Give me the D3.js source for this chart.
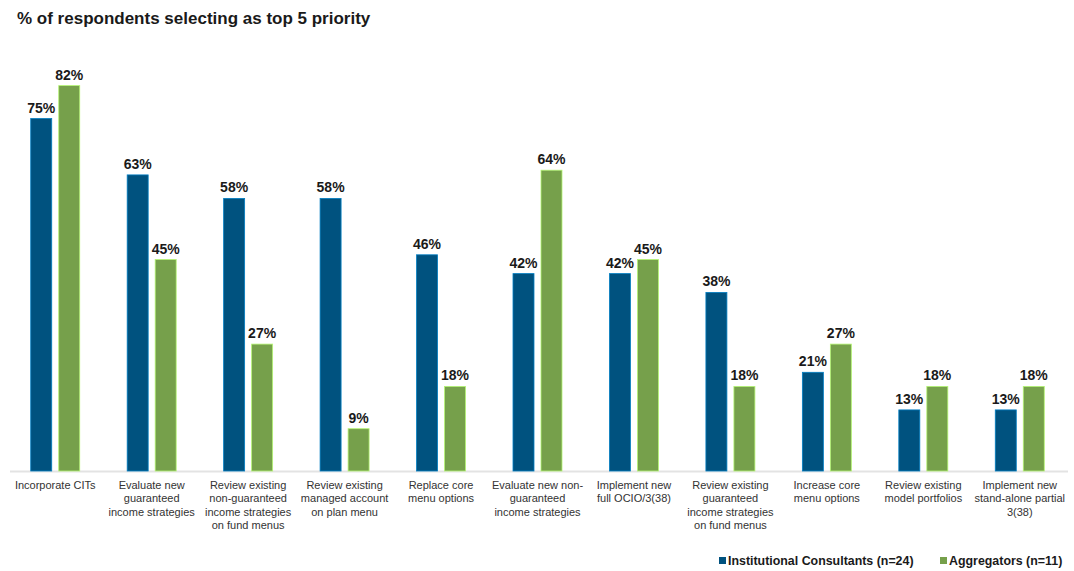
<!DOCTYPE html>
<html>
<head>
<meta charset="utf-8">
<script src="https://cdn.jsdelivr.net/npm/d3@7"></script>
<style>
body { margin: 0; background: #fff; }
svg { font-family: "Liberation Sans", Arial, sans-serif; }
.title { font-weight: bold; font-size: 17px; fill: #1a1a1a; }
.val { font-weight: bold; font-size: 14px; fill: #1a1a1a; }
.cat { font-size: 11px; fill: #333; }
.leg { font-weight: bold; font-size: 12.4px; fill: #1a1a1a; }
</style>
</head>
<body>
<script>
var categories = [
  ["Incorporate CITs"],
  ["Evaluate new", "guaranteed", "income strategies"],
  ["Review existing", "non-guaranteed", "income strategies", "on fund menus"],
  ["Review existing", "managed account", "on plan menu"],
  ["Replace core", "menu options"],
  ["Evaluate new non-", "guaranteed", "income strategies"],
  ["Implement new", "full OCIO/3(38)"],
  ["Review existing", "guaranteed", "income strategies", "on fund menus"],
  ["Increase core", "menu options"],
  ["Review existing", "model portfolios"],
  ["Implement new", "stand-alone partial", "3(38)"]
];
var consultants = [75, 63, 58, 58, 46, 42, 42, 38, 21, 13, 13];
var aggregators = [82, 45, 27, 9, 18, 64, 45, 18, 27, 18, 18];
var seriesNames = ["Institutional Consultants (n=24)", "Aggregators (n=11)"];
var colors = ["#00527f", "#76a04b"];

var W = 1074, H = 571;
var svg = d3.select("body").append("svg").attr("width", W).attr("height", H);

svg.append("text").attr("class", "title").attr("x", 17).attr("y", 24)
  .text("% of respondents selecting as top 5 priority");

var x = d3.scaleBand().domain(d3.range(categories.length)).range([7, 1068]);
var y = d3.scaleLinear().domain([0, 100]).range([471, 1]);
var sub = d3.scaleBand().domain([0, 1]).range([-24.5, 24.5]).paddingInner(0.25);

svg.append("line").attr("x1", 10).attr("x2", 1068).attr("y1", 471.5).attr("y2", 471.5)
  .attr("stroke", "#e3e3e3").attr("stroke-width", 2);

var series = [consultants, aggregators];
series.forEach(function(vals, s) {
  var g = svg.append("g");
  g.selectAll("rect").data(vals).enter().append("rect")
    .attr("x", function(d, i) { return x(i) + x.bandwidth() / 2 + sub(s); })
    .attr("width", sub.bandwidth())
    .attr("y", function(d) { return y(d); })
    .attr("height", function(d) { return y(0) - y(d); })
    .attr("fill", colors[s])
    .attr("stroke", d3.color(colors[s]).brighter(1.2))
    .attr("stroke-width", 0.8);
  g.selectAll("text").data(vals).enter().append("text")
    .attr("class", "val")
    .attr("text-anchor", "middle")
    .attr("x", function(d, i) { return x(i) + x.bandwidth() / 2 + sub(s) + sub.bandwidth() / 2; })
    .attr("y", function(d) { return y(d) - 6; })
    .text(function(d) { return d + "%"; });
});

var cat = svg.append("g").selectAll("text").data(categories).enter().append("text")
  .attr("class", "cat").attr("text-anchor", "middle")
  .attr("x", function(d, i) { return x(i) + x.bandwidth() / 2; })
  .attr("y", 489);
cat.selectAll("tspan").data(function(d) { return d; }).enter().append("tspan")
  .attr("x", function() { return d3.select(this.parentNode).attr("x"); })
  .attr("dy", function(d, i) { return i ? 13.3 : 0; })
  .text(function(d) { return d; });

var legX = [719, 940];
seriesNames.forEach(function(n, i) {
  svg.append("rect").attr("x", legX[i]).attr("y", 557).attr("width", 7).attr("height", 7)
    .attr("fill", colors[i]);
  svg.append("text").attr("class", "leg").attr("x", legX[i] + 9).attr("y", 565).text(n);
});
</script>
</body>
</html>
